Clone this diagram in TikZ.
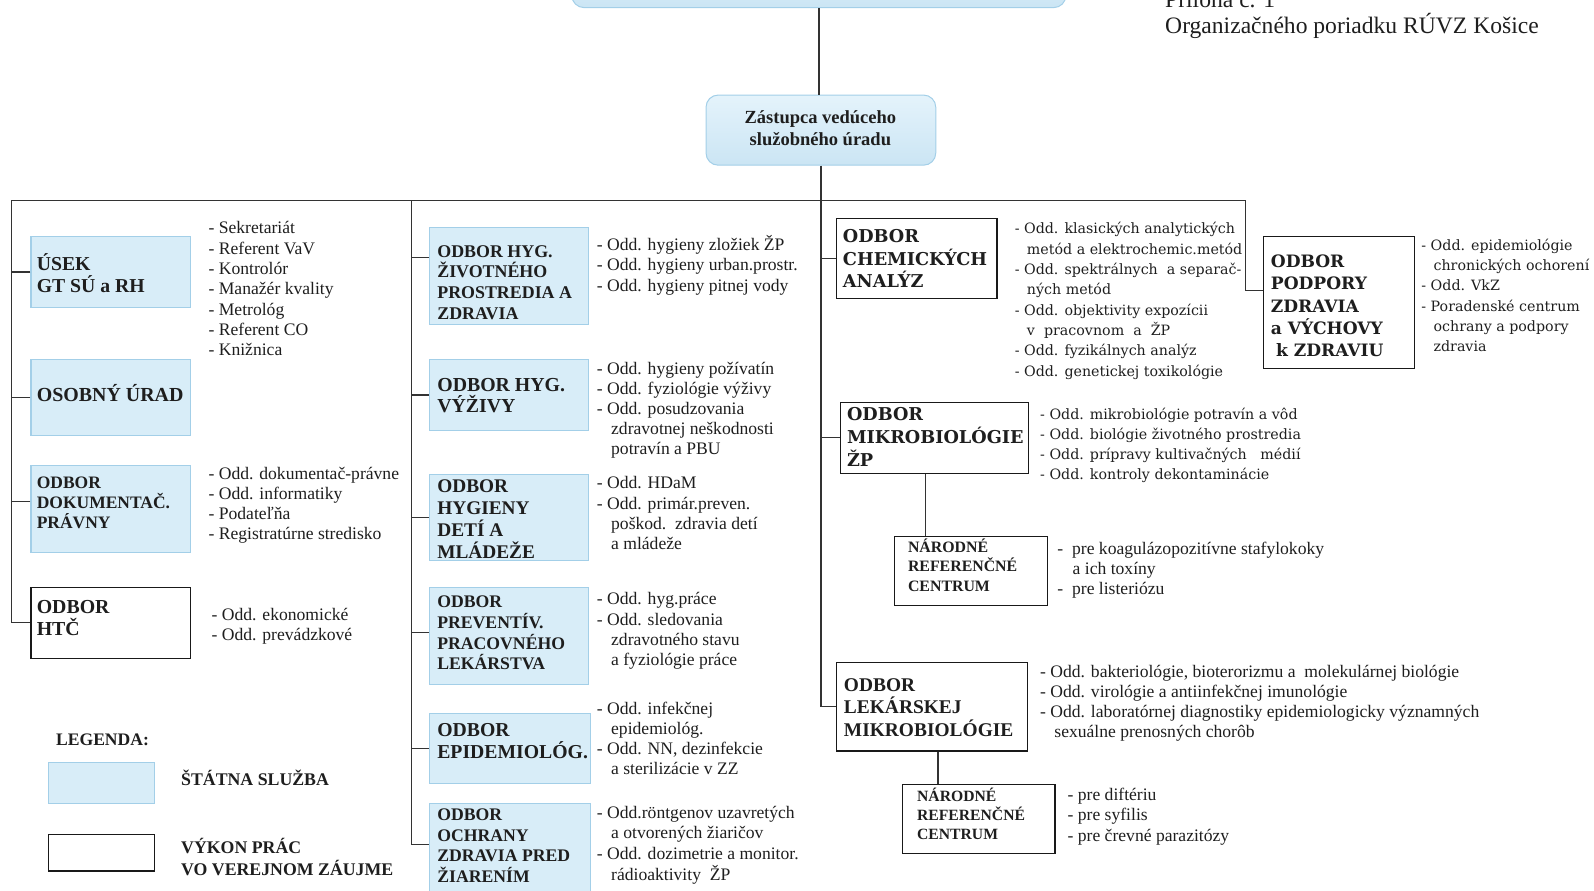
\documentclass[tikz,border=0pt]{standalone}
\usepackage{fontspec}
\setmainfont{Liberation Serif}
\newfontfamily\cent{DejaVu Serif}
\definecolor{bluef}{HTML}{D8EDF8}
\definecolor{bluet}{HTML}{E4F3FB}
\definecolor{blueb}{HTML}{CBE5F4}
\definecolor{bluebd}{HTML}{A3CFE8}
\definecolor{linec}{HTML}{333333}
\definecolor{txt}{HTML}{1E1E1E}
\newcommand\fsz[2]{\fontsize{#1}{#2}\selectfont}
\newcommand\ind{\hspace*{14pt}}
\begin{document}
\begin{tikzpicture}[x=1pt,y=-1pt,
  ln/.style={draw=linec, line width=1.3pt},
  bbox/.style={rectangle, draw=bluebd, fill=bluef, line width=1pt, inner sep=0, anchor=north west},
  rbox/.style={rectangle, rounded corners=12pt, draw=bluebd, line width=1pt, top color=bluet, bottom color=blueb, inner sep=0, anchor=north west},
  wbox/.style={rectangle, draw=black!90, fill=white, line width=1.3pt, inner sep=0, anchor=north west},
  tb/.style={inner sep=0, anchor=base west, align=left, text=txt}]
\useasboundingbox (0,0) rectangle (1568,875.5);

% ---- top
\node[rbox, minimum width=486, minimum height=60, anchor=south west] (top) at (562,8) {};
\node[rbox, minimum width=226, minimum height=69] (zast) at (694,93) {};
\node[tb, align=center, anchor=base, font=\bfseries\fsz{18.2}{22.5}] (zastt) at (807,143.5) {Zástupca vedúceho\\služobného úradu};
\node[tb, font=\fsz{23.2}{26}] (pril) at (1146,33) {Príloha č. 1\\Organizačného poriadku RÚVZ Košice};

% ---- left column
\node[bbox, minimum width=157, minimum height=70] (usek) at (30,232) {};
\node[bbox, minimum width=157, minimum height=75] (osob) at (30,353) {};
\node[bbox, minimum width=157, minimum height=86] (dok) at (30,457) {};
\node[wbox, minimum width=157, minimum height=70] (htc) at (30,577) {};
\node[tb, font=\bfseries\fsz{19.4}{22}] (usekt) at (36,288) {ÚSEK\\GT SÚ a RH};
\node[tb, font=\bfseries\fsz{19.6}{22}] (osobt) at (36,395) {OSOBNÝ ÚRAD};
\node[tb, font=\bfseries\fsz{17.2}{19.6}] (dokt) at (36,520.2) {ODBOR\\DOKUMENTAČ.\\PRÁVNY};
\node[tb, font=\bfseries\fsz{19.5}{22}] (htct) at (36,625) {ODBOR\\HTČ};
\node[tb, font=\fsz{17.3}{20}] (usekl) at (205,350) {- Sekretariát\\- Referent VaV\\- Kontrolór\\- Manažér kvality\\- Metrológ\\- Referent CO\\- Knižnica};
\node[tb, font=\fsz{17.3}{19.7}] (dokl) at (205,531.1) {- Odd. dokumentač-právne\\- Odd. informatiky\\- Podateľňa\\- Registratúrne stredisko};
\node[tb, font=\fsz{17.3}{20}] (htcl) at (208,630) {- Odd. ekonomické\\- Odd. prevádzkové};

% ---- middle column
\node[bbox, minimum width=156, minimum height=96] (hz) at (422,223) {};
\node[bbox, minimum width=156, minimum height=70] (vy) at (422,353) {};
\node[bbox, minimum width=156, minimum height=85] (hd) at (422,466) {};
\node[bbox, minimum width=156, minimum height=96] (pp) at (422,577) {};
\node[bbox, minimum width=158, minimum height=69] (ep) at (422,701) {};
\node[bbox, minimum width=158, minimum height=95] (oc) at (422,790) {};
\node[tb, font=\bfseries\fsz{17.6}{20.3}] (hzt) at (430,313.9) {ODBOR HYG.\\ŽIVOTNÉHO\\PROSTREDIA A\\ZDRAVIA};
\node[tb, font=\bfseries\fsz{19.5}{21}] (vyt) at (430,406) {ODBOR HYG.\\VÝŽIVY};
\node[tb, font=\bfseries\fsz{19}{21.7}] (hdt) at (430,549.1) {ODBOR\\HYGIENY\\DETÍ A\\MLÁDEŽE};
\node[tb, font=\bfseries\fsz{17.4}{20.3}] (ppt) at (430,658.9) {ODBOR\\PREVENTÍV.\\PRACOVNÉHO\\LEKÁRSTVA};
\node[tb, font=\bfseries\fsz{19.4}{22}] (ept) at (430,746) {ODBOR\\EPIDEMIOLÓG.};
\node[tb, font=\bfseries\fsz{17.4}{20.3}] (oct) at (430,867.9) {ODBOR\\OCHRANY\\ZDRAVIA PRED\\ŽIARENÍM};
\node[tb, font=\fsz{17.3}{20.5}] (hzl) at (587,287) {- Odd. hygieny zložiek ŽP\\- Odd. hygieny urban.prostr.\\- Odd. hygieny pitnej vody};
\node[tb, font=\fsz{17.3}{19.8}] (vyl) at (587,447.2) {- Odd. hygieny požívatín\\- Odd. fyziológie výživy\\- Odd. posudzovania\\\ind zdravotnej neškodnosti\\\ind potravín a PBU};
\node[tb, font=\fsz{17.3}{19.7}] (hdl) at (587,540.1) {- Odd. HDaM\\- Odd. primár.preven.\\\ind poškod.\ \ zdravia detí\\\ind a mládeže};
\node[tb, font=\fsz{17.3}{20}] (ppl) at (587,655) {- Odd. hyg.práce\\- Odd. sledovania\\\ind zdravotného stavu\\\ind a fyziológie práce};
\node[tb, font=\fsz{17.3}{19.7}] (epl) at (587,762.1) {- Odd. infekčnej\\\ind epidemiológ.\\- Odd. NN, dezinfekcie\\\ind a sterilizácie v ZZ};
\node[tb, font=\fsz{17.3}{20.3}] (ocl) at (587,865.9) {- Odd.röntgenov uzavretých\\\ind a otvorených žiaričov\\- Odd. dozimetrie a monitor.\\\ind rádioaktivity\ \ ŽP};

% ---- right column
\node[wbox, minimum width=158, minimum height=79] (chem) at (822,214) {};
\node[wbox, minimum width=185, minimum height=70] (mikro) at (826,395) {};
\node[wbox, minimum width=151, minimum height=68] (nrca) at (879,527) {};
\node[wbox, minimum width=188, minimum height=87] (lek) at (822,651) {};
\node[wbox, minimum width=150, minimum height=68] (nrcb) at (887,771) {};
\node[wbox, minimum width=149, minimum height=130] (podp) at (1242,232) {};
\node[tb, font=\cent\bfseries\fsz{17.4}{22}] (chemt) at (829,283) {ODBOR\\CHEMICKÝCH\\ANALÝZ};
\node[tb, font=\cent\fsz{14}{20}] (cheml) at (998,370) {- Odd. klasických analytických\\\hspace*{12pt}metód a elektrochemic.metód\\- Odd. spektrálnych\ \ a separač-\\\hspace*{12pt}ných metód\\- Odd. objektivity expozícii\\\hspace*{12pt}v\ \ pracovnom\ \ a\ \ ŽP\\- Odd. fyzikálnych analýz\\- Odd. genetickej toxikológie};
\node[tb, font=\cent\bfseries\fsz{17.4}{22.5}] (mikrot) at (833,459) {ODBOR\\MIKROBIOLÓGIE\\ŽP};
\node[tb, font=\cent\fsz{14}{19.7}] (mikrol) at (1023,472.1) {- Odd. mikrobiológie potravín a vôd\\- Odd. biológie životného prostredia\\- Odd. prípravy kultivačných\ \ \ médií\\- Odd. kontroly dekontaminácie};
\node[tb, font=\bfseries\fsz{15.6}{19}] (nrcat) at (893,581.5) {NÁRODNÉ\\REFERENČNÉ\\CENTRUM};
\node[tb, font=\fsz{17.3}{20}] (nrcal) at (1040,585) {-\ \ pre koagulázopozitívne stafylokoky\\\hspace*{15pt}a ich toxíny\\-\ \ pre listeriózu};
\node[tb, font=\bfseries\fsz{19.1}{22}] (lekt) at (830,724) {ODBOR\\LEKÁRSKEJ\\MIKROBIOLÓGIE};
\node[tb, font=\fsz{17.3}{19.7}] (lekl) at (1023,725.1) {- Odd. bakteriológie, bioterorizmu a\ \ molekulárnej biológie\\- Odd. virológie a antiinfekčnej imunológie\\- Odd. laboratórnej diagnostiky epidemiologicky významných\\\ind sexuálne prenosných chorôb};
\node[tb, font=\bfseries\fsz{15.4}{18.5}] (nrcbt) at (902,825.5) {NÁRODNÉ\\REFERENČNÉ\\CENTRUM};
\node[tb, font=\fsz{17.3}{20.5}] (nrcbl) at (1050,828) {- pre diftériu\\- pre syfilis\\- pre črevné parazitózy};
\node[tb, font=\cent\bfseries\fsz{16.8}{22}] (podpt) at (1250,351) {ODBOR\\PODPORY\\ZDRAVIA\\a VÝCHOVY\\\hspace*{5pt}k ZDRAVIU};
\node[tb, font=\cent\fsz{14}{20}] (podpl) at (1398,346) {- Odd. epidemiológie\\\hspace*{12pt}chronických ochorení\\- Odd. VkZ\\- Poradenské centrum\\\hspace*{12pt}ochrany a podpory\\\hspace*{12pt}zdravia};

% ---- legend
\node[tb, font=\bfseries\fsz{17.3}{20}] (leg) at (55,733) {LEGENDA:};
\node[bbox, minimum width=104, minimum height=40] (legb) at (47,750) {};
\node[tb, font=\bfseries\fsz{17.5}{20}] (legbt) at (178,773) {ŠTÁTNA SLUŽBA};
\node[wbox, minimum width=104, minimum height=36] (legw) at (47,820) {};
\node[tb, font=\bfseries\fsz{17.5}{21}] (legwt) at (178,861) {VÝKON PRÁC\\VO VEREJNOM ZÁUJME};

% ---- connectors
\coordinate (L) at (11,197);
\coordinate (M) at (405,197);
\coordinate (R) at (1225,197);
\draw[ln] (top.south) -- (top.south |- zast.north);
\draw[ln] (zast.south) |- (lek.west);
\draw[ln] (L) -- (R) |- ([yshift=12pt]podp.west);
\draw[ln] (L) |- (htc.west);
\draw[ln] (usek.west) -- (usek.west -| L);
\draw[ln] (osob.west) -- (osob.west -| L);
\draw[ln] ([yshift=7pt]dok.west) -- ([yshift=7pt]dok.west -| L);
\draw[ln] (M) |- ([yshift=7.5pt]oc.west);
\draw[ln] ([yshift=18pt]hz.west) -- ([yshift=18pt]hz.west -| M);
\draw[ln] (vy.west) -- (vy.west -| M);
\draw[ln] (hd.west) -- (hd.west -| M);
\draw[ln] ([yshift=3pt]pp.west) -- ([yshift=3pt]pp.west -| M);
\draw[ln] (ep.west) -- (ep.west -| M);
\draw[ln] (chem.west) -- (chem.west -| zast.south);
\draw[ln] (mikro.west) -- (mikro.west -| zast.south);
\draw[ln] ([xshift=-8.5pt]mikro.south) -- ([xshift=-8.5pt]mikro.south |- nrca.north);
\draw[ln] ([xshift=6pt]lek.south) -- ([xshift=6pt]lek.south |- nrcb.north);
\end{tikzpicture}
\end{document}
